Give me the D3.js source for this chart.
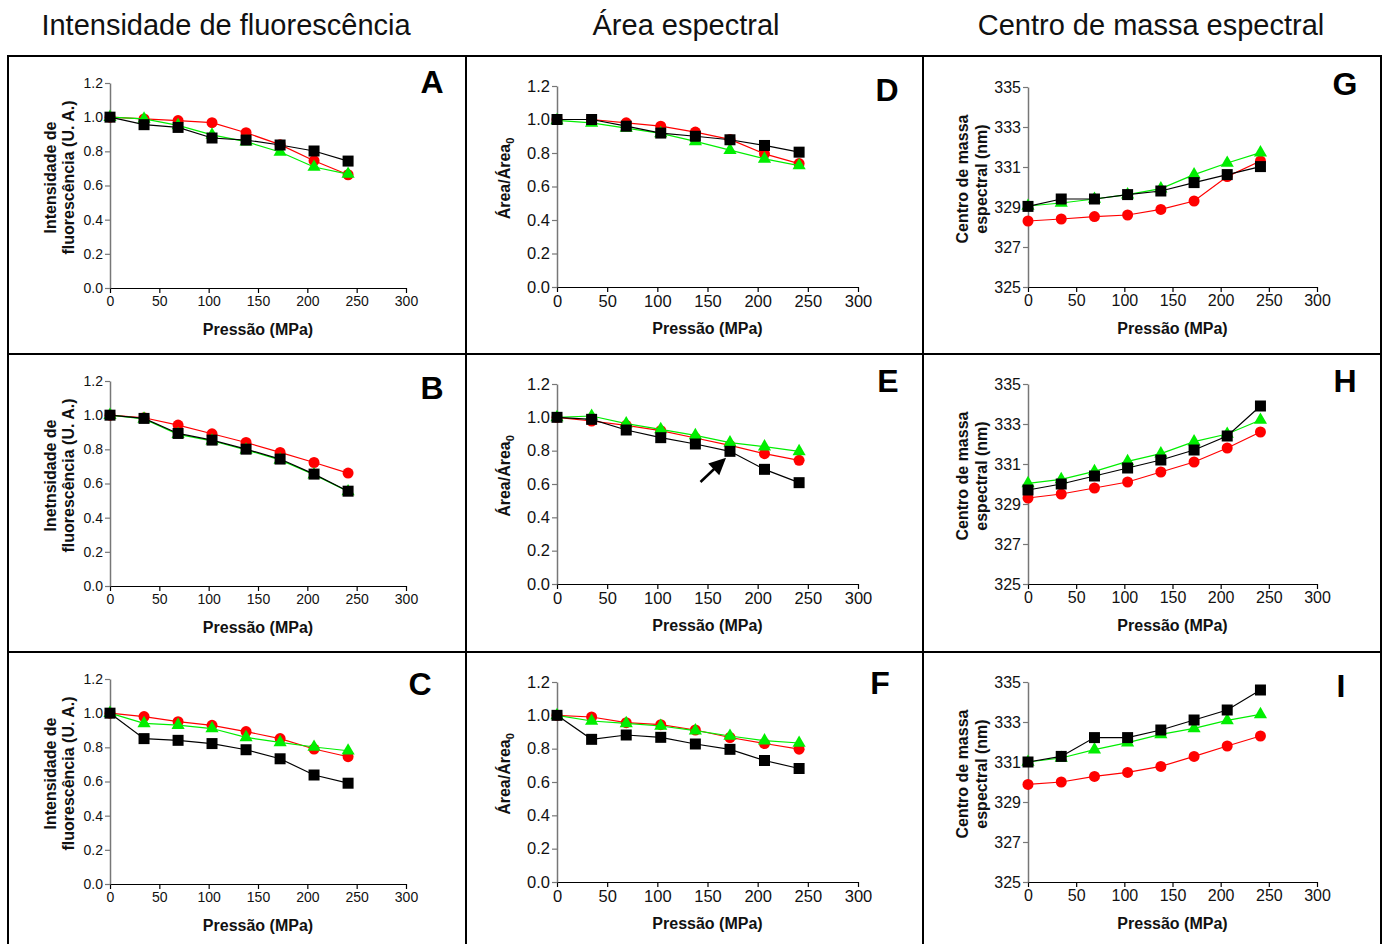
<!DOCTYPE html>
<html>
<head>
<meta charset="utf-8">
<script src="https://cdn.jsdelivr.net/npm/d3@7.9.0/dist/d3.min.js"></script>
<style>
  body { margin: 0; background: #fff; }
  svg { display: block; font-family: "Liberation Sans", Arial, sans-serif; }
</style>
</head>
<body>
<svg id="chart" width="1387" height="944"></svg>
<script>
// pressure steps (MPa)
const pressure = [0, 34.5, 69, 103.4, 137.9, 172.4, 206.8, 241.3];
const xTicks = [0, 50, 100, 150, 200, 250, 300];
const ratioTicks = [0, 0.2, 0.4, 0.6, 0.8, 1.0, 1.2];
const nmTicks = [325, 327, 329, 331, 333, 335];

const columnTitles = ["Intensidade de fluorescência", "Área espectral", "Centro de massa espectral"];

// A - intensity
const aRed   = [1.0, 0.99, 0.98, 0.968, 0.909, 0.839, 0.745, 0.663];
const aGreen = [1.0, 0.99, 0.952, 0.896, 0.857, 0.796, 0.708, 0.667];
const aBlack = [1.0, 0.956, 0.94, 0.878, 0.866, 0.837, 0.802, 0.743];
// B
const bRed   = [1.0, 0.985, 0.942, 0.891, 0.84, 0.782, 0.723, 0.661];
const bGreen = [1.0, 0.978, 0.888, 0.85, 0.797, 0.738, 0.652, 0.553];
const bBlack = [1.0, 0.981, 0.893, 0.854, 0.801, 0.743, 0.655, 0.555];
// C
const cRed   = [1.0, 0.98, 0.95, 0.929, 0.892, 0.851, 0.79, 0.745];
const cGreen = [1.0, 0.94, 0.93, 0.91, 0.858, 0.829, 0.802, 0.78];
const cBlack = [1.0, 0.851, 0.841, 0.822, 0.786, 0.733, 0.638, 0.59];
// D - area
const dRed   = [1.0, 1.0, 0.98, 0.96, 0.925, 0.881, 0.795, 0.737];
const dGreen = [0.995, 0.98, 0.949, 0.917, 0.869, 0.817, 0.765, 0.725];
const dBlack = [1.0, 1.0, 0.96, 0.919, 0.90, 0.879, 0.845, 0.805];
// E
const eRed   = [1.0, 0.978, 0.952, 0.92, 0.876, 0.832, 0.782, 0.742];
const eGreen = [1.0, 1.008, 0.962, 0.928, 0.892, 0.848, 0.824, 0.796];
const eBlack = [1.0, 0.988, 0.924, 0.878, 0.84, 0.796, 0.688, 0.608];
// F
const fRed   = [1.0, 0.99, 0.956, 0.944, 0.912, 0.867, 0.831, 0.797];
const fGreen = [1.0, 0.966, 0.952, 0.936, 0.908, 0.876, 0.848, 0.834];
const fBlack = [1.0, 0.856, 0.882, 0.868, 0.828, 0.796, 0.729, 0.681];
// G - spectral centre of mass (nm)
const gRed   = [328.3, 328.4, 328.52, 328.6, 328.88, 329.3, 330.52, 331.3];
const gGreen = [329.05, 329.2, 329.4, 329.62, 329.92, 330.62, 331.2, 331.72];
const gBlack = [329.03, 329.4, 329.4, 329.62, 329.8, 330.22, 330.62, 331.02];
// H
const hRed   = [329.3, 329.5, 329.8, 330.1, 330.6, 331.1, 331.8, 332.6];
const hGreen = [330.03, 330.23, 330.63, 331.13, 331.52, 332.12, 332.5, 333.2];
const hBlack = [329.7, 330.0, 330.4, 330.8, 331.2, 331.7, 332.4, 333.9];
// I
const iRed   = [329.88, 330.0, 330.28, 330.48, 330.78, 331.28, 331.8, 332.3];
const iGreen = [331.0, 331.2, 331.62, 331.97, 332.38, 332.68, 333.08, 333.38];
const iBlack = [331.0, 331.28, 332.22, 332.22, 332.6, 333.1, 333.6, 334.6];

// arrow in panel E, data coords [pressure, value]
const arrowE = [[143, 0.612], [168.5, 0.758]];

const svg = d3.select("#chart");

const cols = [
  { x0: 110, x1: 406, titleX: 226, tickFont: 14, yTitle: ["Intensidade de", "fluorescência (U. A.)"], yTitleX: [50, 68] },
  { x0: 557, x1: 858, titleX: 686, tickFont: 16.5, yTitle: null, yTitleX: [504] },
  { x0: 1028, x1: 1317, titleX: 1151, tickFont: 16, yTitle: ["Centro de massa", "espectral (nm)"], yTitleX: [962, 981] }
];

const panels = [
  { col: 0, top: 83, bot: 288, letter: "A", lx: 432, ly: 81, data: [aRed, aGreen, aBlack] },
  { col: 0, top: 381, bot: 586, letter: "B", lx: 432, ly: 387, data: [bRed, bGreen, bBlack], yTitle: ["Inetnsidade de", "fluorescência (U. A.)"] },
  { col: 0, top: 679, bot: 884, letter: "C", lx: 420, ly: 683, data: [cRed, cGreen, cBlack] },
  { col: 1, top: 86, bot: 287, letter: "D", lx: 887, ly: 89, data: [dRed, dGreen, dBlack] },
  { col: 1, top: 384, bot: 584, letter: "E", lx: 888, ly: 380, data: [eRed, eGreen, eBlack], arrow: arrowE },
  { col: 1, top: 682, bot: 882, letter: "F", lx: 880, ly: 682, data: [fRed, fGreen, fBlack] },
  { col: 2, top: 87, bot: 287, letter: "G", lx: 1345, ly: 83, data: [gRed, gGreen, gBlack] },
  { col: 2, top: 384, bot: 584, letter: "H", lx: 1345, ly: 380, data: [hRed, hGreen, hBlack] },
  { col: 2, top: 682, bot: 882, letter: "I", lx: 1341, ly: 685, data: [iRed, iGreen, iBlack] }
];

const seriesStyle = [
  { color: "#ff0000", symbol: d3.symbolCircle, size: 95 },
  { color: "#00ee00", symbol: d3.symbolTriangle, size: 75 },
  { color: "#000000", symbol: d3.symbolSquare, size: 121 }
];

// frame
const frame = svg.append("g").attr("stroke", "#000").attr("stroke-width", 2).attr("fill", "none");
frame.append("rect").attr("x", 8).attr("y", 56).attr("width", 1373).attr("height", 900);
[466, 923].forEach(x => frame.append("line").attr("x1", x).attr("x2", x).attr("y1", 56).attr("y2", 944));
[354, 652].forEach(y => frame.append("line").attr("x1", 8).attr("x2", 1381).attr("y1", y).attr("y2", y));

// column titles
cols.forEach((c, i) => {
  svg.append("text")
    .attr("x", c.titleX).attr("y", 35)
    .attr("text-anchor", "middle")
    .attr("font-size", "29px")
    .attr("fill", "#111")
    .text(columnTitles[i]);
});

panels.forEach(p => {
  const c = cols[p.col];
  const isNm = p.col === 2;
  const x = d3.scaleLinear().domain([0, 300]).range([c.x0, c.x1]);
  const y = d3.scaleLinear().domain(isNm ? [325, 335] : [0, 1.2]).range([p.bot, p.top]);

  const g = svg.append("g");

  // x axis
  const gx = g.append("g")
    .attr("transform", `translate(0,${p.bot})`)
    .call(d3.axisBottom(x).tickValues(xTicks).tickSize(5).tickPadding(3).tickSizeOuter(0))
    .attr("font-family", null)
    .attr("font-size", c.tickFont);
  gx.select(".domain").attr("stroke", "#000").attr("stroke-width", 1.2);
  gx.selectAll(".tick line").attr("stroke", "#000").attr("stroke-width", 1.2);
  gx.selectAll(".tick text").attr("fill", "#111");

  // y axis
  const gy = g.append("g")
    .attr("transform", `translate(${c.x0},0)`)
    .call(d3.axisLeft(y).tickValues(isNm ? nmTicks : ratioTicks)
      .tickFormat(isNm ? d3.format("d") : d3.format(".1f"))
      .tickSize(5).tickPadding(2).tickSizeOuter(0))
    .attr("font-family", null)
    .attr("font-size", c.tickFont);
  gy.select(".domain").attr("stroke", "#777").attr("stroke-width", 1.5);
  gy.selectAll(".tick line").attr("stroke", "#777").attr("stroke-width", 1.2);
  gy.selectAll(".tick text").attr("fill", "#111");

  // x title
  g.append("text")
    .attr("x", (c.x0 + c.x1) / 2).attr("y", p.bot + 47)
    .attr("text-anchor", "middle")
    .attr("font-size", "16px").attr("font-weight", "bold")
    .attr("fill", "#111")
    .text("Pressão (MPa)");

  // y title
  const cy = (p.top + p.bot) / 2 - 8;
  if (c.yTitle) {
    const lines = p.yTitle || c.yTitle;
    lines.forEach((t, k) => {
      g.append("text")
        .attr("transform", `translate(${c.yTitleX[k]},${cy}) rotate(-90)`)
        .attr("dy", "0.35em")
        .attr("text-anchor", "middle")
        .attr("font-size", "16px").attr("font-weight", "bold")
        .attr("fill", "#111")
        .text(t);
    });
  } else {
    const t = g.append("text")
      .attr("transform", `translate(${c.yTitleX[0]},${cy}) rotate(-90)`)
      .attr("dy", "0.35em")
      .attr("text-anchor", "middle")
      .attr("font-size", "16px").attr("font-weight", "bold")
      .attr("fill", "#111");
    t.append("tspan").text("Área/Área");
    t.append("tspan").attr("font-size", "11px").attr("dy", "4").text("0");
  }

  // series
  const line = d3.line().x((d, i) => x(pressure[i])).y(d => y(d));
  p.data.forEach((vals, s) => {
    const st = seriesStyle[s];
    g.append("path").datum(vals)
      .attr("fill", "none").attr("stroke", st.color).attr("stroke-width", 1.2)
      .attr("d", line);
    g.selectAll(null).data(vals).enter().append("path")
      .attr("transform", (d, i) => `translate(${x(pressure[i])},${y(d)})`)
      .attr("d", d3.symbol().type(st.symbol).size(st.size))
      .attr("fill", st.color);
  });

  // arrow annotation
  if (p.arrow) {
    const [a, b] = p.arrow;
    const x1 = x(a[0]), y1 = y(a[1]), x2 = x(b[0]), y2 = y(b[1]);
    const ang = Math.atan2(y2 - y1, x2 - x1);
    const hl = 17, hw = 8;
    const bx = x2 - hl * Math.cos(ang), by = y2 - hl * Math.sin(ang);
    g.append("line")
      .attr("x1", x1).attr("y1", y1).attr("x2", bx + 2 * Math.cos(ang)).attr("y2", by + 2 * Math.sin(ang))
      .attr("stroke", "#000").attr("stroke-width", 2.5);
    g.append("path")
      .attr("d", `M${x2},${y2}L${bx + hw * Math.sin(ang)},${by - hw * Math.cos(ang)}L${bx - hw * Math.sin(ang)},${by + hw * Math.cos(ang)}Z`)
      .attr("fill", "#000");
  }

  // panel letter
  g.append("text")
    .attr("x", p.lx).attr("y", p.ly + 11.5)
    .attr("text-anchor", "middle")
    .attr("font-size", "32px").attr("font-weight", "bold")
    .attr("fill", "#000")
    .text(p.letter);
});
</script>
</body>
</html>
